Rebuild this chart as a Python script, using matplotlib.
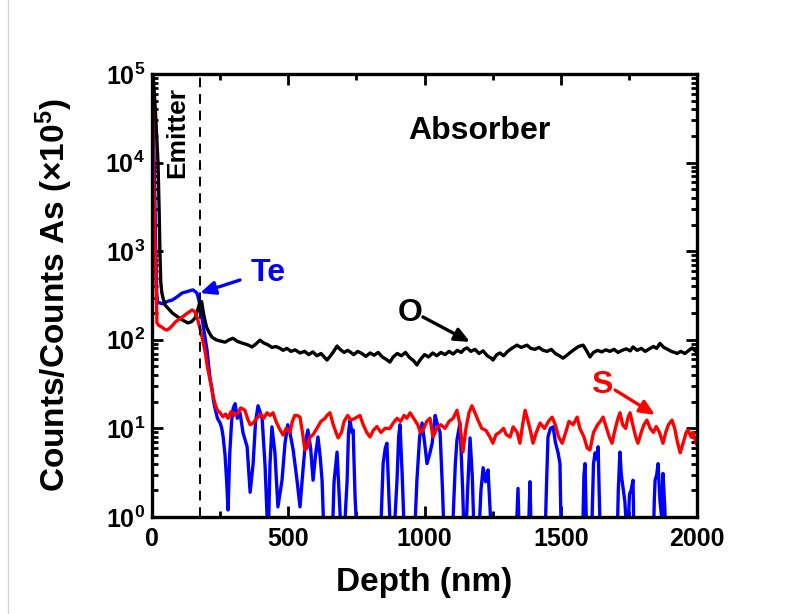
import matplotlib
matplotlib.use('Agg')
import matplotlib.pyplot as plt
from matplotlib.lines import Line2D
from matplotlib.ticker import MultipleLocator, LogLocator, NullFormatter

# ---- data ----
o_depth = [0, 4, 12, 22, 26, 29, 32, 36, 40, 48, 60, 75, 95, 115, 132, 145, 158, 170, 176, 182,
           190, 200, 210, 220, 235, 250, 268, 283, 297, 313, 330, 350, 367, 382, 396, 410,
           425, 440, 455, 470, 481, 495, 510, 525, 543, 560, 575, 590, 605, 620, 642, 655,
           668, 679, 690, 705, 718, 727, 740, 755, 770, 785, 800, 815, 830, 845, 860, 873,
           885, 900, 915, 930, 945, 960, 972, 985, 1000, 1015, 1030, 1045, 1060, 1075, 1090,
           1105, 1120, 1135, 1145, 1156, 1170, 1185, 1200, 1215, 1230, 1245, 1251, 1265,
           1277, 1290, 1305, 1320, 1339, 1355, 1376, 1390, 1405, 1420, 1435, 1450, 1465,
           1480, 1495, 1508, 1520, 1535, 1550, 1565, 1582, 1595, 1607, 1620, 1635, 1650,
           1665, 1680, 1695, 1710, 1725, 1740, 1755, 1765, 1780, 1795, 1810, 1825, 1840,
           1852, 1864, 1878, 1892, 1905, 1918, 1927, 1940, 1955, 1970, 1982, 1995, 2000]
o_counts = [150000, 100000, 40000, 10000, 3000, 1000, 450, 340, 300, 246, 225, 200, 181, 165,
            155, 160, 176, 230, 267, 270, 190, 139, 120, 107, 100, 97, 94, 100, 104, 96, 92,
            88, 83, 90, 99, 92, 88, 82, 84, 80, 76, 80, 74, 77, 71, 74, 68, 73, 66, 70, 59,
            66, 75, 85, 78, 72, 76, 73, 68, 74, 70, 65, 71, 67, 72, 64, 60, 56, 64, 70, 66,
            72, 63, 58, 52, 60, 68, 64, 71, 66, 72, 68, 74, 69, 76, 72, 78, 81, 74, 78, 70,
            75, 66, 62, 59, 68, 71, 66, 74, 80, 87, 82, 87, 80, 78, 82, 76, 74, 78, 70, 66,
            62, 66, 72, 78, 84, 87, 75, 64, 72, 76, 73, 77, 74, 78, 72, 76, 79, 75, 83, 76,
            80, 74, 79, 84, 80, 91, 82, 78, 74, 72, 70, 74, 70, 76, 81, 74, 76]

s_depth = [0, 5, 10, 15, 18, 25, 35, 45, 55, 65, 75, 85, 95, 105, 115, 125, 135, 147,
           158, 165, 172, 180, 187, 194, 203, 213, 222, 231, 240, 250, 260, 270, 279, 290,
           300, 316, 325, 334, 341, 350, 360, 371, 385, 400, 410, 422, 433, 444, 455, 467,
           481, 492, 506, 515, 524, 532, 543, 552, 561, 569, 580, 591, 605, 620, 635, 642,
           653, 665, 675, 683, 695, 705, 718, 730, 745, 752, 763, 775, 788, 800, 812, 825,
           840, 855, 873, 885, 899, 912, 925, 935, 947, 960, 975, 985, 995, 1008, 1020, 1031,
           1045, 1060, 1075, 1090, 1105, 1119, 1130, 1141, 1152, 1163, 1174, 1185, 1198,
           1210, 1225, 1240, 1251, 1262, 1275, 1290, 1300, 1314, 1325, 1340, 1350, 1360,
           1369, 1380, 1390, 1398, 1410, 1424, 1440, 1455, 1468, 1480, 1492, 1505, 1518,
           1530, 1545, 1560, 1570, 1585, 1597, 1607, 1620, 1635, 1645, 1655, 1668, 1678,
           1688, 1700, 1710, 1717, 1727, 1738, 1746, 1754, 1764, 1775, 1783, 1795, 1805,
           1816, 1828, 1840, 1850, 1862, 1875, 1885, 1895, 1908, 1918, 1928, 1938, 1950,
           1960, 1967, 1978, 1986, 1993, 2000]
s_counts = [100000, 10000, 1500, 400, 155, 145, 140, 132, 129, 135, 145, 158, 167,
            175, 185, 195, 205, 217, 206, 180, 150, 120, 95, 76, 50, 35, 25, 19, 16, 15,
            13.5, 14.5, 13, 15.5, 14, 15, 17, 16.5, 16, 13, 11, 11.5, 13, 14.5, 13, 15, 14,
            15, 12, 10, 8.4, 10, 9, 12, 14, 14, 13.4, 9, 5.7, 6, 8, 8.5, 10, 12, 13, 14, 15,
            11, 9, 7.8, 9, 12, 14, 12.4, 13, 13.4, 14, 11, 9, 8, 9.5, 10.5, 9, 10, 10, 11.5,
            13, 12, 14, 13, 15, 13, 11, 9, 9.6, 12, 13, 8, 10, 11, 10, 12, 13, 16, 11, 5.4,
            10, 15, 18, 15, 12, 10, 9.5, 8, 6.8, 8.5, 9, 10, 8.5, 8, 10.4, 9, 6.8, 11, 16,
            12, 9, 6.8, 9, 11.5, 10, 12, 13.4, 11, 8, 6.8, 9, 12, 11, 13.4, 10, 8, 6, 5.7,
            9, 11, 12, 13.4, 10, 8, 6.8, 10, 13, 15, 11, 10, 13, 15, 11, 8, 6.8, 9, 11,
            12.4, 10, 9, 10.5, 9, 6.8, 9, 11, 12.4, 10, 7, 5.3, 7, 9, 9.6, 8, 9, 7.4, 6.5]

# values below 1 fall under the axis (drop-outs)
te_depth = [0, 4, 8, 11, 14, 17, 20, 28, 37, 50, 62, 73, 85, 98, 110, 122, 135, 150, 158,
            165, 172, 178, 183, 190, 196, 202, 208, 214, 220, 226, 231, 240, 250, 256, 261,
            268, 274, 279, 285, 292, 298, 305, 313, 323, 334, 349, 360, 371, 380, 389, 404,
            415, 426, 433, 440, 451, 462, 477, 488, 498, 506, 518, 532, 543, 554, 563, 572,
            582, 591, 600, 609, 617, 624, 633, 650, 660, 668, 679, 688, 697, 707, 716, 721,
            727, 733, 738, 745, 755, 770, 790, 810, 830, 840, 848, 856, 862, 870, 880, 890,
            899, 905, 910, 918, 928, 940, 955, 965, 972, 982, 991, 1000, 1009, 1018, 1028,
            1039, 1046, 1057, 1066, 1075, 1090, 1105, 1113, 1119, 1130, 1140, 1148, 1158,
            1167, 1175, 1185, 1198, 1207, 1215, 1224, 1233, 1242, 1250, 1270, 1300, 1325,
            1335, 1343, 1350, 1375, 1381, 1387, 1393, 1420, 1440, 1447, 1453, 1462, 1472,
            1480, 1490, 1497, 1503, 1530, 1560, 1578, 1585, 1589, 1595, 1605, 1614, 1620,
            1626, 1632, 1637, 1643, 1650, 1680, 1705, 1711, 1717, 1722, 1728, 1735, 1745,
            1752, 1758, 1765, 1770, 1800, 1838, 1843, 1846, 1852, 1857, 1864, 1870, 1875,
            1882, 1888, 1920, 1960, 2000]
te_counts = [100000, 30000, 10000, 3000, 900, 350, 260, 262, 255, 265, 275, 280, 295, 315,
             337, 345, 355, 366, 350, 337, 280, 220, 181, 130, 100, 76, 50, 35, 28, 20, 17,
             13, 11.5, 10, 8, 5, 2.5, 1.2, 5, 12, 17, 19, 13, 15, 8.9, 6.2, 1.9, 4, 12, 18,
             13, 3.7, 0.5, 4, 10.4, 5.3, 1.3, 2.6, 6.8, 11, 9, 5.7, 2.6, 1.3, 3.4, 7, 9.6,
             6, 2.6, 5, 8, 4.8, 2.6, 0.4, 0.4, 0.4, 2.5, 5.4, 1.5, 0.4, 0.8, 2.6, 9, 12.4,
             9, 9.6, 1.7, 0.4, 0.3, 0.3, 0.3, 0.3, 0.8, 4, 6, 6.8, 1.5, 0.3, 0.8, 2.6, 8, 11,
             3, 0.4, 0.3, 0.3, 0.8, 2.6, 8, 11.5, 7, 4, 5, 6.8, 14, 11.5, 9, 2, 0.3, 0.3, 1,
             4, 7.4, 11.5, 2, 0.3, 2, 7.8, 3, 0.3, 0.5, 2, 3.6, 2.5, 3.4, 1, 0.3, 0.3, 0.3,
             0.3, 0.5, 2.1, 0.3, 0.3, 0.6, 2.5, 0.4, 0.3, 0.3, 2, 8, 10, 10.4, 7, 5.3, 4,
             0.3, 0.3, 0.3, 0.3, 3, 4, 0.6, 0.4, 0.8, 4, 5.3, 4.5, 6.2, 1, 0.3, 0.3, 0.3, 2,
             5.4, 3, 2.2, 1.5, 0.5, 1.8, 2, 2.6, 0.3, 0.3, 0.3, 1.5, 2.6, 3, 4, 1.5, 1, 3.1,
             1.2, 0.3, 0.3, 0.3, 0.3]

emitter_edge = 176  # nm, dashed boundary

x_ticks = [0, 500, 1000, 1500, 2000]
y_ticks = [1, 10, 100, 1000, 10000, 100000]
y_tick_labels = [r'$10^{%d}$' % i for i in range(6)]

plt.rcParams['font.family'] = ['Liberation Sans', 'DejaVu Sans']
plt.rcParams['font.weight'] = 'bold'
plt.rcParams['mathtext.fontset'] = 'custom'
plt.rcParams['mathtext.rm'] = 'Liberation Sans:bold'
plt.rcParams['mathtext.it'] = 'Liberation Sans:bold'
plt.rcParams['mathtext.bf'] = 'Liberation Sans:bold'
plt.rcParams['mathtext.default'] = 'rm'


def plot_profile():
    fig = plt.figure(figsize=(7.98, 6.14), dpi=100)
    ax = fig.add_axes([0.1905, 0.158, 0.683, 0.7215])

    ax.plot(te_depth, te_counts, color='#0000ff', lw=2.4)
    ax.plot(o_depth, o_counts, color='black', lw=2.4)
    ax.plot(s_depth, s_counts, color='#ff0000', lw=2.4)
    ax.axvline(emitter_edge, color='black', lw=1.4, linestyle=(0, (5, 3.5)))

    ax.set_yscale('log')
    ax.set_xlim(0, 2000)
    ax.set_ylim(1, 1e5)
    ax.set_xticks(x_ticks)
    ax.set_xticklabels([str(t) for t in x_ticks])
    ax.xaxis.set_minor_locator(MultipleLocator(250))
    ax.set_yticks(y_ticks)
    ax.set_yticklabels(y_tick_labels)
    ax.yaxis.set_minor_locator(LogLocator(base=10, subs=range(2, 10), numticks=20))
    ax.yaxis.set_minor_formatter(NullFormatter())

    ax.tick_params(which='both', direction='in', top=True, right=True, width=2)
    ax.tick_params(which='major', length=8)
    ax.tick_params(which='minor', length=4.5)
    ax.tick_params(axis='x', labelsize=18, pad=7)
    ax.tick_params(axis='y', labelsize=18, pad=5)
    for sp in ax.spines.values():
        sp.set_linewidth(2.4)

    ax.set_xlabel('Depth (nm)', fontsize=24, fontweight='bold', labelpad=12)
    ax.set_ylabel(r'Counts/Counts As ($\times10^{5}$)', fontsize=24, fontweight='bold',
                  labelpad=22)

    # labels and arrows
    ax.text(0.600, 0.872, 'Absorber', transform=ax.transAxes, fontsize=23,
            fontweight='bold', ha='center', va='center')
    ax.text(0.046, 0.868, 'Emitter', transform=ax.transAxes, fontsize=19,
            fontweight='bold', ha='center', va='center', rotation=90)
    ax.text(0.213, 0.551, 'Te', transform=ax.transAxes, fontsize=23,
            fontweight='bold', ha='center', va='center', color='#0000ff')
    ax.text(0.473, 0.4605, 'O', transform=ax.transAxes, fontsize=23,
            fontweight='bold', ha='center', va='center', color='black')
    ax.text(0.826, 0.298, 'S', transform=ax.transAxes, fontsize=23,
            fontweight='bold', ha='center', va='center', color='#ff0000')

    arrow = dict(arrowstyle='-|>,head_length=0.9,head_width=0.4', lw=2.4,
                 shrinkA=0, shrinkB=0)
    ax.annotate('', xy=(176, 337), xytext=(323, 473),
                arrowprops=dict(arrow, color='#0000ff'))
    ax.annotate('', xy=(1167, 94.5), xytext=(994, 181),
                arrowprops=dict(arrow, color='black'))
    ax.annotate('', xy=(1846, 14.2), xytext=(1699, 27.1),
                arrowprops=dict(arrow, color='#ff0000'))

    # faint page border on the left
    fig.add_artist(Line2D([0.0105, 0.0105], [0, 1], transform=fig.transFigure,
                          color='#d8d8d8', lw=1))

    fig.savefig('out.png', dpi=100)


def main():
    plot_profile()


if __name__ == "__main__":
    main()
